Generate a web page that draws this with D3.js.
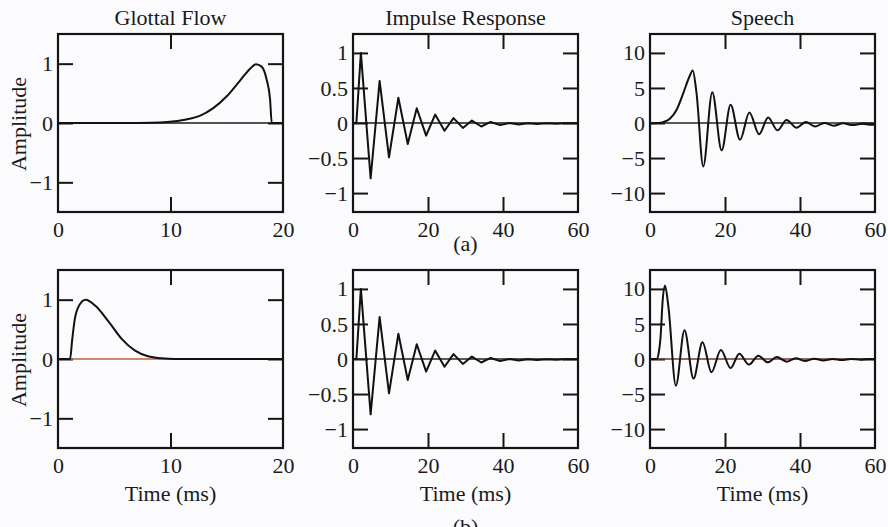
<!DOCTYPE html>
<html>
<head>
<meta charset="utf-8">
<script src="https://cdn.jsdelivr.net/npm/d3@7"></script>
<style>
  html, body { margin: 0; padding: 0; background: #fbfbfd; }
  svg { display: block; }
  text { font-family: "Liberation Serif", "DejaVu Serif", serif; fill: #1a1a1a; }
</style>
</head>
<body>
<div id="chart"></div>
<script>
// values: [time in ms, amplitude]
const glottalFlowA = [[0,0],[6,0.002],[8.2,0.006],[9.7,0.017],[11.4,0.06],[12.6,0.12],[13.8,0.25],[15.0,0.45],[16.2,0.72],[17.1,0.92],[17.6,0.99],[18.1,0.95],[18.55,0.73],[18.85,0.40],[19.0,0],[20,0]];
const glottalFlowB = [[0,0],[1.07,0],[1.27,0.34],[1.5,0.68],[1.87,0.9],[2.46,1.0],[3.3,0.9],[4.5,0.63],[5.66,0.34],[6.85,0.14],[8.0,0.045],[9.2,0.012],[10.4,0.002],[20,0]];
const impulseResp = [[0,0],[0.9,0],[2.1,1.0],[4.7,-0.79],[7.1,0.6],[9.6,-0.49],[12.1,0.36],[14.6,-0.3],[17.0,0.21],[19.5,-0.18],[21.9,0.12],[24.4,-0.11],[26.8,0.07],[29.3,-0.07],[31.7,0.035],[34.2,-0.05],[36.7,0.015],[39.2,-0.03],[41.7,0],[44.2,-0.02],[46.6,-0.005],[49.1,-0.015],[51.6,-0.005],[54.1,-0.01],[56.5,-0.005],[60,-0.005]];
const speechA = [[0,-0.05],[2,0],[3.5,0.12],[5.3,0.6],[7.1,1.9],[8.9,4.3],[10.5,6.6],[11.4,7.5],[12.4,4.3],[14.2,-6.2],[16.6,4.4],[19.1,-3.9],[21.5,2.6],[24.0,-2.4],[26.5,1.5],[29.1,-1.6],[31.5,0.8],[34.0,-1.05],[36.4,0.43],[39.1,-0.67],[41.6,0.15],[44.0,-0.5],[46.5,0],[49.0,-0.38],[51.5,-0.05],[54.0,-0.3],[56.5,-0.1],[59.0,-0.25],[60,-0.22]];
const speechB = [[0,0],[1.8,0],[2.3,0.8],[2.8,3.0],[3.4,8.5],[4.0,10.5],[4.9,7.5],[6.9,-3.8],[9.2,4.1],[11.6,-2.8],[14.0,2.4],[16.4,-1.9],[18.9,1.3],[21.5,-1.3],[23.8,0.76],[26.4,-0.8],[28.9,0.47],[31.4,-0.48],[33.8,0.28],[36.5,-0.38],[38.9,0.1],[41.3,-0.3],[43.8,0.05],[46.2,-0.2],[48.7,0],[51.2,-0.15],[53.6,0],[56.1,-0.1],[58.6,0],[60,-0.03]];

const titles = ["Glottal Flow", "Impulse Response", "Speech"];
const rowLabels = ["(a)", "(b)"];
const timeTicks20 = [0, 10, 20];
const timeTicks60 = [0, 20, 40, 60];
const ampTicks = [-1, 0, 1];
const impTicks = [-1, -0.5, 0, 0.5, 1];
const speechTicks = [-10, -5, 0, 5, 10];

const W = 888, H = 527;
const colX = [58, 353, 650];
const rowY = [34, 270];
const pw = 225, ph = 178;

const svg = d3.select("#chart").append("svg")
  .attr("width", W)
  .attr("height", H);

const columns = [
  { xMax: 20, xTicks: timeTicks20, yMax: 1.5, yTicks: ampTicks, curve: d3.curveMonotoneX },
  { xMax: 60, xTicks: timeTicks60, yMax: 1.27, yTicks: impTicks, curve: d3.curveLinear },
  { xMax: 60, xTicks: timeTicks60, yMax: 12.7, yTicks: speechTicks, curve: d3.curveMonotoneX }
];
const series = [
  [glottalFlowA, impulseResp, speechA],
  [glottalFlowB, impulseResp, speechB]
];
const zeroColors = [["#1a1a1a", "#1a1a1a", "#2a2020"], ["#c0603e", "#2a1f1c", "#6a3a2e"]];

const fmt = d => d < 0 ? "\u2212" + (-d) : String(d);

function styleAxis(g, showText) {
  g.select(".domain").remove();
  g.selectAll(".tick line").attr("stroke", "#151515").attr("stroke-width", 2);
  g.selectAll(".tick text")
    .attr("fill", "#1a1a1a")
    .style("font-family", '"Liberation Serif", "DejaVu Serif", serif')
    .style("font-size", "22px");
  if (!showText) g.selectAll(".tick text").remove();
}

series.forEach((row, r) => {
  row.forEach((data, c) => {
    const cfg = columns[c];
    const x = d3.scaleLinear().domain([0, cfg.xMax]).range([0, pw]);
    const y = d3.scaleLinear().domain([-cfg.yMax, cfg.yMax]).range([ph, 0]);
    const g = svg.append("g").attr("transform", `translate(${colX[c]},${rowY[r]})`);

    const inner = cfg.xTicks.slice(1, -1);

    g.append("g").attr("transform", `translate(0,${ph})`)
      .call(d3.axisBottom(x).tickValues(cfg.xTicks).tickSizeInner(-15).tickSizeOuter(0).tickPadding(9).tickFormat(fmt))
      .call(a => styleAxis(a, true))
      .call(a => a.selectAll(".tick line").filter(d => !inner.includes(d)).remove());

    g.append("g")
      .call(d3.axisTop(x).tickValues(inner).tickSizeInner(-15).tickSizeOuter(0))
      .call(a => styleAxis(a, false));

    g.append("g")
      .call(d3.axisLeft(y).tickValues(cfg.yTicks).tickSizeInner(-15).tickSizeOuter(0).tickPadding(5).tickFormat(fmt))
      .call(a => styleAxis(a, true));

    g.append("g").attr("transform", `translate(${pw},0)`)
      .call(d3.axisRight(y).tickValues(cfg.yTicks).tickSizeInner(-15).tickSizeOuter(0))
      .call(a => styleAxis(a, false));

    // zero line
    g.append("line")
      .attr("x1", 0).attr("x2", pw)
      .attr("y1", y(0)).attr("y2", y(0))
      .attr("stroke", zeroColors[r][c])
      .attr("stroke-width", 1.3);

    const line = d3.line()
      .x(d => x(d[0]))
      .y(d => y(d[1]))
      .curve(cfg.curve);

    g.append("path")
      .datum(data)
      .attr("fill", "none")
      .attr("stroke", "#111")
      .attr("stroke-width", 2)
      .attr("stroke-linejoin", "round")
      .attr("d", line);

    g.append("rect")
      .attr("width", pw).attr("height", ph)
      .attr("fill", "none")
      .attr("stroke", "#141414")
      .attr("stroke-width", 2.2);

    if (r === 0) {
      g.append("text")
        .attr("x", pw / 2).attr("y", -9)
        .attr("text-anchor", "middle")
        .style("font-size", "22px")
        .text(titles[c]);
    } else {
      g.append("text")
        .attr("x", pw / 2).attr("y", ph + 53)
        .attr("text-anchor", "middle")
        .style("font-size", "22px")
        .text("Time (ms)");
    }

    if (c === 0) {
      g.append("text")
        .attr("transform", `translate(${26 - colX[0]},${ph / 2 + 1}) rotate(-90)`)
        .attr("text-anchor", "middle")
        .style("font-size", "22px")
        .text("Amplitude");
    }
  });
});

svg.selectAll(".row-label")
  .data(rowLabels)
  .enter()
  .append("text")
  .attr("class", "row-label")
  .attr("x", colX[1] + pw / 2)
  .attr("y", (d, i) => i === 0 ? 251 : 534)
  .attr("text-anchor", "middle")
  .style("font-size", "22px")
  .text(d => d);
</script>
</body>
</html>
